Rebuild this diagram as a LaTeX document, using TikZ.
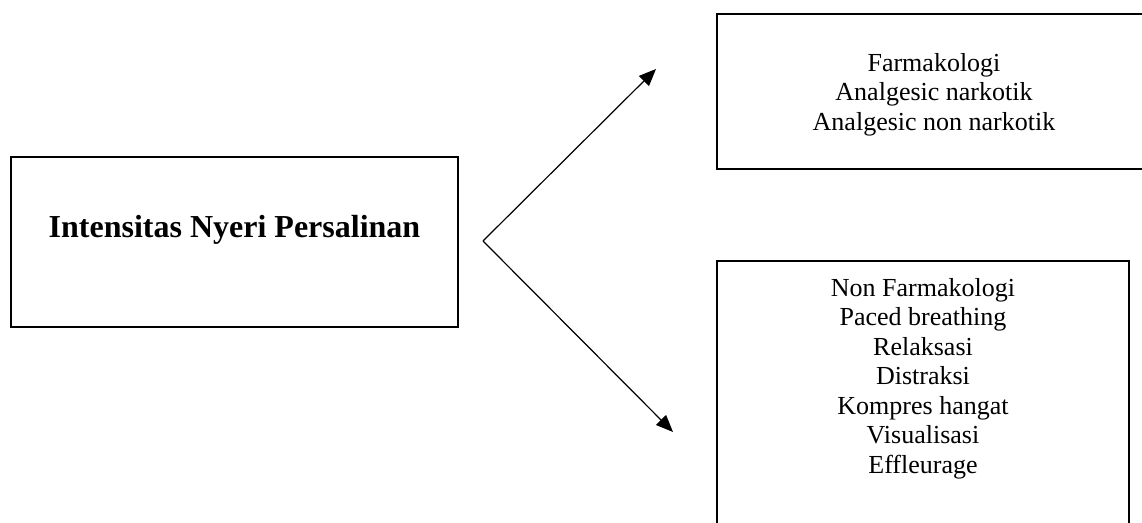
\documentclass[tikz,border=0pt]{standalone}
\usepackage{fontspec}
\setmainfont{Liberation Serif}
\usetikzlibrary{arrows.meta, calc, positioning}

\begin{document}
\begin{tikzpicture}[x=1pt, y=-1pt, line width=2pt,
        box/.style={draw, rectangle, inner sep=0pt},
        txt/.style={align=center, inner sep=0pt, font=\fontsize{26}{29.5}\selectfont},
        arr/.style={line width=1.2pt, -{Triangle[length=17pt, width=14pt]}}]
    \useasboundingbox (0,0) rectangle (1142,522);
    \clip (0,0) rectangle (1142,522);

    \node (intensitas) [box, minimum width=447pt, minimum height=170pt,
        text height=24pt, text depth=34pt,
        font=\fontsize{32}{36}\selectfont\bfseries] at (234.5,242) {Intensitas Nyeri Persalinan};

    \node (farmako) [box, minimum width=434pt, minimum height=155pt, anchor=north west] at (716,13) {};
    \node (farmakoTxt) [txt, below=39pt of farmako.north] {Farmakologi\\Analgesic narkotik\\Analgesic non narkotik};

    \node (nonfarmako) [box, minimum width=412pt, minimum height=300pt, anchor=north west] at (716,260) {};
    \node (nonfarmakoTxt) [txt, below=17pt of nonfarmako.north] {Non Farmakologi\\Paced breathing\\Relaksasi\\Distraksi\\Kompres hangat\\Visualisasi\\Effleurage};

    \coordinate (fork) at (483,241);
    \coordinate (tipUp) at (656,69);
    \coordinate (tipDown) at (673,432);
    \draw[arr] (fork) -- (tipUp);
    \draw[arr] (fork) -- (tipDown);
\end{tikzpicture}
\end{document}
